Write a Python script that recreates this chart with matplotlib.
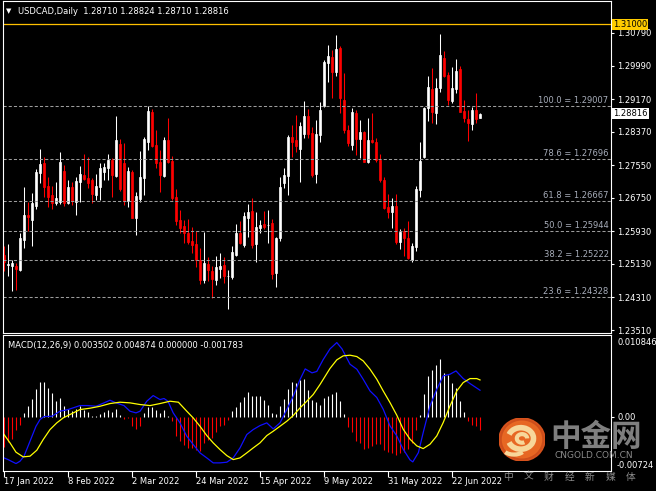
import matplotlib
matplotlib.use("Agg")
import matplotlib.pyplot as plt
import matplotlib.transforms as mtransforms
from matplotlib.patches import Circle, Arc

# ---- data (USDCAD daily, 17 Jan 2022 onward, one bar per trading day) ----
opens = [1.25350, 1.25105, 1.25087, 1.25087, 1.24982, 1.25717, 1.26330, 1.26207, 1.26557, 1.27366,
         1.27611, 1.27040, 1.26820, 1.26631, 1.26655, 1.27415, 1.26631, 1.27008, 1.26655, 1.27145,
         1.27302, 1.27236, 1.27187, 1.26820, 1.27023, 1.27390, 1.27474, 1.27677, 1.27285, 1.28069,
         1.27596, 1.26680, 1.27383, 1.26263, 1.26714, 1.27229, 1.28125, 1.28853, 1.28045, 1.27635,
         1.27285, 1.28167, 1.27660, 1.26763, 1.26207, 1.26060, 1.25881, 1.25700, 1.25619, 1.25227,
         1.24737, 1.25129, 1.24965, 1.24737, 1.25007, 1.25105, 1.24835, 1.24818, 1.25350, 1.25881,
         1.25595, 1.26249, 1.26428, 1.25619, 1.26004, 1.26109, 1.26077, 1.26141, 1.24916, 1.25759,
         1.27121, 1.27292, 1.28248, 1.28167, 1.27947, 1.28307, 1.28762, 1.28331, 1.27334, 1.28290,
         1.29007, 1.30046, 1.30208, 1.29840, 1.30428, 1.29147, 1.28412, 1.28045, 1.28821, 1.28192,
         1.28356, 1.27635, 1.28167, 1.28125, 1.27677, 1.27187, 1.26533, 1.26410, 1.26550, 1.25675,
         1.25938, 1.25759, 1.25227, 1.25553, 1.26942, 1.27758, 1.28944, 1.29417, 1.28836, 1.29434,
         1.30183, 1.29760, 1.29123, 1.29417, 1.29907, 1.28878, 1.28682, 1.28566, 1.28902, 1.28710]
highs = [1.25570, 1.25619, 1.25227, 1.25146, 1.25881, 1.27008, 1.26655, 1.26861, 1.27449, 1.27939,
         1.27743, 1.27253, 1.27040, 1.27138, 1.27873, 1.27547, 1.27187, 1.27138, 1.27253, 1.27530,
         1.27824, 1.27743, 1.27229, 1.27334, 1.27596, 1.27611, 1.27824, 1.27726, 1.28755, 1.28184,
         1.28101, 1.27498, 1.27432, 1.26900, 1.27898, 1.28248, 1.29000, 1.28919, 1.28412, 1.27922,
         1.28248, 1.28699, 1.27775, 1.26959, 1.26452, 1.26207, 1.26224, 1.26043, 1.25945, 1.25514,
         1.25920, 1.25308, 1.25080, 1.25325, 1.25406, 1.25293, 1.24982, 1.25570, 1.26109, 1.26190,
         1.26410, 1.26599, 1.26739, 1.26410, 1.26207, 1.26435, 1.26452, 1.26224, 1.25783, 1.27253,
         1.27474, 1.28290, 1.28535, 1.28780, 1.28601, 1.29123, 1.28927, 1.28493, 1.28657, 1.29091,
         1.30127, 1.30495, 1.30372, 1.30740, 1.30477, 1.29801, 1.28535, 1.28944, 1.28902, 1.28657,
         1.28388, 1.28713, 1.28821, 1.28209, 1.27817, 1.27268, 1.26837, 1.26739, 1.26837, 1.25987,
         1.26018, 1.26183, 1.25636, 1.27040, 1.28125, 1.28983, 1.29742, 1.29938, 1.29679, 1.30764,
         1.30348, 1.29840, 1.29963, 1.30152, 1.29987, 1.29147, 1.28902, 1.28983, 1.29311, 1.28824]
lows = [1.24958, 1.24835, 1.24475, 1.24492, 1.24965, 1.25528, 1.25945, 1.25577, 1.26477, 1.27106,
        1.26778, 1.26533, 1.26469, 1.26567, 1.26592, 1.26550, 1.26599, 1.26575, 1.26330, 1.26655,
        1.27187, 1.26984, 1.26616, 1.26697, 1.26697, 1.27187, 1.27187, 1.26778, 1.27253, 1.26925,
        1.26575, 1.26518, 1.26249, 1.25840, 1.26655, 1.26820, 1.27922, 1.28003, 1.27474, 1.26900,
        1.27253, 1.27596, 1.26697, 1.26085, 1.25881, 1.25636, 1.25619, 1.25406, 1.25063, 1.24639,
        1.24671, 1.24720, 1.24289, 1.24615, 1.24779, 1.24656, 1.24019, 1.24754, 1.25325, 1.25619,
        1.25553, 1.25783, 1.25514, 1.25185, 1.25881, 1.25979, 1.25651, 1.24754, 1.24558, 1.25700,
        1.26984, 1.26820, 1.27758, 1.27880, 1.27145, 1.28223, 1.28223, 1.27268, 1.27106, 1.28111,
        1.28983, 1.29581, 1.29189, 1.29742, 1.28821, 1.28331, 1.28027, 1.27922, 1.27800, 1.27719,
        1.27621, 1.27596, 1.28086, 1.27635, 1.27145, 1.26477, 1.26263, 1.26018, 1.25612, 1.25489,
        1.25332, 1.25252, 1.25171, 1.25455, 1.26778, 1.27719, 1.28633, 1.28591, 1.28566, 1.29350,
        1.29718, 1.29025, 1.29066, 1.29311, 1.28846, 1.28601, 1.28143, 1.28412, 1.28576, 1.28710]
closes = [1.25178, 1.25129, 1.25146, 1.25007, 1.25773, 1.26330, 1.26273, 1.26631, 1.27383, 1.27572,
          1.27008, 1.26778, 1.26616, 1.26746, 1.27628, 1.26616, 1.27008, 1.26680, 1.27163, 1.27334,
          1.27204, 1.27106, 1.26844, 1.27040, 1.27474, 1.27498, 1.27677, 1.27310, 1.28167, 1.26967,
          1.26680, 1.27408, 1.26263, 1.26795, 1.27253, 1.28184, 1.28878, 1.28020, 1.27611, 1.27310,
          1.28167, 1.27635, 1.26739, 1.26190, 1.26004, 1.25881, 1.25675, 1.25595, 1.25227, 1.24737,
          1.25161, 1.24982, 1.24754, 1.25063, 1.25080, 1.24835, 1.24845, 1.25430, 1.25896, 1.25651,
          1.26305, 1.26403, 1.25595, 1.26028, 1.26085, 1.26028, 1.26092, 1.24884, 1.25759, 1.27008,
          1.27310, 1.28248, 1.28125, 1.28027, 1.28510, 1.28762, 1.28307, 1.27310, 1.28307, 1.28902,
          1.30085, 1.30225, 1.29840, 1.30397, 1.29203, 1.28412, 1.28086, 1.28846, 1.28192, 1.28356,
          1.27635, 1.28167, 1.28111, 1.27677, 1.27175, 1.26508, 1.26396, 1.26550, 1.25675, 1.25920,
          1.25759, 1.25269, 1.25577, 1.26967, 1.27653, 1.28958, 1.29473, 1.28846, 1.29434, 1.30250,
          1.29742, 1.29147, 1.29448, 1.29858, 1.28860, 1.28699, 1.28576, 1.28902, 1.28682, 1.28816]

macd_hist = [-0.00403, -0.00341, -0.00297, -0.00173, -0.00106, 0.00049, 0.00146, 0.00239, 0.00368, 0.00461,
             0.00457, 0.00381, 0.00315, 0.00204, 0.00248, 0.00146, 0.00102, 0.00071, 0.00102, 0.00137,
             0.00084, 0.00058, 0.00013, 0.00013, 0.00040, 0.00058, 0.00093, 0.00058, 0.00106, 0.00027,
             -0.00031, -0.00018, -0.00129, -0.00164, -0.00129, 0.00049, 0.00129, 0.00129, 0.00093, 0.00049,
             0.00084, 0.00013, -0.00062, -0.00262, -0.00328, -0.00381, -0.00417, -0.00417, -0.00448, -0.00461,
             -0.00350, -0.00306, -0.00284, -0.00208, -0.00129, -0.00106, -0.00049, 0.00071, 0.00129, 0.00191,
             0.00262, 0.00332, 0.00279, 0.00279, 0.00270, 0.00217, 0.00160, 0.00049, 0.00035, 0.00137,
             0.00235, 0.00368, 0.00457, 0.00448, 0.00492, 0.00501, 0.00359, 0.00226, 0.00191, 0.00160,
             0.00248, 0.00280, 0.00297, 0.00328, 0.00208, 0.00030, -0.00133, -0.00204, -0.00324, -0.00355,
             -0.00426, -0.00412, -0.00390, -0.00368, -0.00368, -0.00443, -0.00470, -0.00488, -0.00514, -0.00488,
             -0.00470, -0.00434, -0.00355, -0.00177, 0.00018, 0.00297, 0.00541, 0.00621, 0.00683, 0.00762,
             0.00585, 0.00550, 0.00452, 0.00386, 0.00208, 0.00062, -0.00058, -0.00115, -0.00124, -0.00178]

# blue and yellow lines, read at these bar positions
blue_pos = [0, 1, 3, 4, 5, 6, 7, 8, 9, 10, 12, 14, 16, 19, 21, 23, 25, 26.5, 28, 30, 31.5, 33, 34,
            35.7, 37.3, 39, 40, 41, 42.3, 44, 45.7, 47.3, 49, 50.7, 52.3, 54, 55.7, 57.3, 59, 60.7,
            62.3, 64, 65.7, 67.3, 69, 70.7, 72.3, 74, 75.3, 77, 78.2, 79.8, 81.5, 83.2, 84.5, 86.5,
            88.2, 89.8, 91.5, 93.2, 94.8, 96.5, 98.2, 99.8, 101.5, 102.2, 103.6, 104.8, 106.5, 108.2,
            109.8, 111.5, 113, 114.8, 116.5, 119]
blue_val = [-0.00550, -0.00572, -0.00625, -0.00594, -0.00527, -0.00395, -0.00262, -0.00129, -0.00040,
            0.00000, 0.00004, 0.00071, 0.00093, 0.00146, 0.00146, 0.00137, 0.00182, 0.00217, 0.00182,
            0.00146, 0.00071, 0.00049, 0.00071, 0.00204, 0.00279, 0.00226, 0.00240, 0.00204, 0.00049,
            -0.00084, -0.00262, -0.00372, -0.00483, -0.00550, -0.00616, -0.00616, -0.00607, -0.00550,
            -0.00417, -0.00239, -0.00173, -0.00120, -0.00084, -0.00164, -0.00084, 0.00093, 0.00270,
            0.00492, 0.00634, 0.00581, 0.00600, 0.00758, 0.00900, 0.00984, 0.00900, 0.00696, 0.00630,
            0.00496, 0.00341, 0.00253, 0.00098, -0.00124, -0.00257, -0.00434, -0.00576, -0.00603,
            -0.00479, -0.00213, 0.00142, 0.00363, 0.00541, 0.00563, 0.00607, 0.00505, 0.00439, 0.00350]
yellow_pos = [0, 1.5, 3, 4.8, 6.5, 8.2, 9.8, 11.5, 13.2, 14.8, 16.5, 19, 21.5, 24, 26.5, 29, 31.5,
              34, 36.5, 39, 41.5, 43.6, 45.7, 47.3, 49, 50.7, 52.3, 54, 55.7, 57.3, 59, 60.7, 62.3,
              64, 65.7, 67.3, 69, 70.7, 72.3, 74, 75.7, 77.3, 79, 81.5, 83.2, 84.8, 86.5, 88.2, 89.8,
              91.5, 93.2, 94.8, 96.5, 98.2, 99.8, 101.5, 103.2, 104.8, 106.5, 108.2, 109.8, 111.5,
              113.2, 114.8, 116.5, 118.2, 119]
yellow_val = [-0.00239, -0.00350, -0.00474, -0.00536, -0.00527, -0.00448, -0.00306, -0.00173, -0.00084,
              -0.00018, 0.00027, 0.00093, 0.00111, 0.00137, 0.00173, 0.00191, 0.00182, 0.00160, 0.00146,
              0.00173, 0.00204, 0.00191, 0.00071, -0.00018, -0.00129, -0.00253, -0.00350, -0.00439,
              -0.00519, -0.00572, -0.00550, -0.00483, -0.00417, -0.00350, -0.00253, -0.00195, -0.00129,
              -0.00062, 0.00013, 0.00115, 0.00204, 0.00293, 0.00426, 0.00640, 0.00754, 0.00807, 0.00816,
              0.00798, 0.00740, 0.00630, 0.00496, 0.00341, 0.00186, 0.00018, -0.00168, -0.00301, -0.00390,
              -0.00426, -0.00368, -0.00257, -0.00080, 0.00142, 0.00341, 0.00452, 0.00505, 0.00505, 0.00487]

fib_pct = ["100.0", "78.6", "61.8", "50.0", "38.2", "23.6"]
fib_levels = [1.29007, 1.27696, 1.26667, 1.25944, 1.25222, 1.24328]
price_ticks = [1.30790, 1.29990, 1.29170, 1.28370, 1.27550, 1.26750, 1.25930, 1.25130, 1.24310, 1.23510]
date_idx = [0, 16, 32, 48, 64, 80, 96, 112]
date_labels = ["17 Jan 2022", "8 Feb 2022", "2 Mar 2022", "24 Mar 2022",
               "15 Apr 2022", "9 May 2022", "31 May 2022", "22 Jun 2022"]
alert_level = 1.31000
last_price = 1.28816
macd_top, macd_bottom = 0.010846, -0.00724
slogan = ["中", "文", "财", "经", "新", "媒", "体"]

# ---- figure ----
W, H = 656, 491
plt.rcParams['font.family'] = ['DejaVu Sans', 'Noto Sans CJK SC']
fig = plt.figure(figsize=(W / 100, H / 100), dpi=100, facecolor='black')

def px_axes(l, t, r, b):
    return fig.add_axes([l / W, 1 - b / H, (r - l) / W, (b - t) / H])

ax = px_axes(3, 1, 611, 333)
mx = px_axes(3, 335, 611, 471)
for a in (ax, mx):
    a.set_facecolor('black')
    a.set_xlim(-0.25, 151.75)
    for s in a.spines.values():
        s.set_color('white')
        s.set_linewidth(0.8)

# candles
n = len(opens)
for i in range(n):
    up = closes[i] >= opens[i]
    col = 'white' if up else '#ff0000'
    ax.vlines(i, lows[i], highs[i], colors=col, linewidth=0.75)
    lo, hi = min(opens[i], closes[i]), max(opens[i], closes[i])
    ax.bar(i, hi - lo, bottom=lo, width=0.66, color=col, edgecolor=col, linewidth=0.5)

ax.set_ylim(1.23438, 1.31573)
ax.yaxis.tick_right()
ax.set_yticks(price_ticks)
ax.set_yticklabels([f"{v:.5f}" for v in price_ticks])
ax.tick_params(axis='y', colors='white', length=2.5, width=0.8, pad=2, labelsize=6)
ax.set_xticks([])

# fibonacci levels
blend = mtransforms.blended_transform_factory(ax.transAxes, ax.transData)
for pct, lvl in zip(fib_pct, fib_levels):
    ax.axhline(lvl, color='#9c9c9c', linewidth=0.75, linestyle=(0, (3, 2)))
    ax.text(0.996, lvl + 0.0002, f"{pct} = {lvl:.5f}", transform=blend, ha='right', va='bottom',
            color='#a8aebb', fontsize=6)

# alert line and price boxes
ax.axhline(alert_level, color='#ffc000', linewidth=0.9)
ax.text(1.003, alert_level, f"{alert_level:.5f}", transform=blend, ha='left', va='center',
        color='black', fontsize=6, clip_on=False,
        bbox=dict(boxstyle='square,pad=0.15', facecolor='#ffcc00', edgecolor='none'))
ax.text(1.003, last_price, f"{last_price:.5f}", transform=blend, ha='left', va='center',
        color='black', fontsize=6, clip_on=False,
        bbox=dict(boxstyle='square,pad=0.15', facecolor='white', edgecolor='none'))

fig.text(6 / W, 1 - 11 / H, "\u25bc", color='white', fontsize=5, va='center', ha='left')
fig.text(18 / W, 1 - 11 / H,
         f"USDCAD,Daily  {opens[-1]:.5f} {highs[-1]:.5f} {lows[-1]:.5f} {closes[-1]:.5f}",
         color='white', fontsize=6, va='center', ha='left')

# MACD panel
hist_cols = ['white' if v >= 0 else '#ff0000' for v in macd_hist]
mx.vlines(range(n), 0, macd_hist, colors=hist_cols, linewidth=0.8)
mx.plot(blue_pos, blue_val, color='#1010ff', linewidth=0.9)
mx.plot(yellow_pos, yellow_val, color='#ffff00', linewidth=0.9)
mx.set_ylim(macd_bottom, macd_top)
mx.yaxis.tick_right()
mx.set_yticks([0])
mx.set_yticklabels(["0.00"])
mx.tick_params(axis='y', colors='white', length=2.5, width=0.8, pad=2, labelsize=6)
mx.text(1.01, 1 - 3 / 136, f"{macd_top:.6f}", transform=mx.transAxes, ha='left', va='top',
        color='white', fontsize=6, clip_on=False)
mx.text(1.01, 1.5 / 136, f"{macd_bottom:.5f}", transform=mx.transAxes, ha='left', va='bottom',
        color='white', fontsize=6, clip_on=False)
mx.text(0.008, 0.955, "MACD(12,26,9) 0.003502 0.004874 0.000000 -0.001783", transform=mx.transAxes,
        color='white', fontsize=6, va='top', ha='left')

mx.set_xticks(date_idx)
mx.set_xticklabels(date_labels)
mx.tick_params(axis='x', colors='white', length=4, width=0.8, pad=0.5, labelsize=6)
for lbl in mx.get_xticklabels():
    lbl.set_ha('left')

# watermark
logo = px_axes(499, 418, 545, 461)
logo.set_xlim(-1, 1)
logo.set_ylim(-1, 1)
logo.axis('off')
logo.add_patch(Circle((0, 0), 1, color='#e0561e', alpha=0.92))
logo.add_patch(Circle((0, 0), 0.85, color='#ea6a24', alpha=0.9))
logo.add_patch(Arc((-0.05, 0.05), 1.1, 1.0, theta1=200, theta2=520, color='#f7d79a', linewidth=4))
logo.add_patch(Arc((0.0, 0.05), 0.45, 0.4, theta1=0, theta2=300, color='#f7d79a', linewidth=3))
logo.add_patch(Arc((-0.35, -0.45), 0.9, 0.5, theta1=200, theta2=340, color='#f7d79a', linewidth=3))
fig.text(596 / W, 1 - 437 / H, "中金网", fontsize=22, color='#8e8e8e', alpha=0.9,
         ha='center', va='center', family=['Noto Sans CJK SC'], fontweight='bold')
fig.text(594 / W, 1 - 456 / H, "CNGOLD.COM.CN", fontsize=6.5, color='#9a9a9a', alpha=0.9,
         ha='center', va='center')
for k, ch in enumerate(slogan):
    fig.text((508 + 20.5 * k) / W, 1 - 477 / H, ch, fontsize=7, color='#9a9a9a',
             alpha=0.9, ha='center', va='center', family=['Noto Sans CJK SC'])

fig.savefig("out.png", dpi=100, facecolor='black')
